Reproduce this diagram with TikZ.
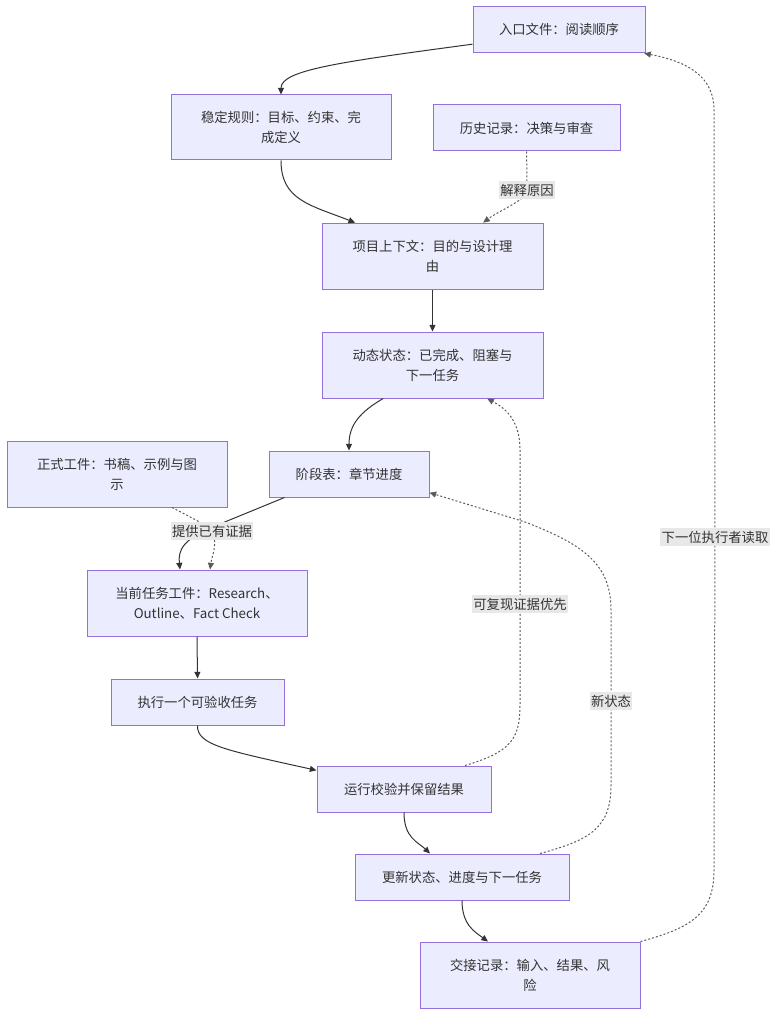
\documentclass[tikz,border=0pt]{standalone}
\usepackage{fontspec}
\setmainfont{Noto Sans CJK SC}
\usetikzlibrary{arrows.meta}
\definecolor{boxfill}{HTML}{ECECFF}
\definecolor{boxline}{HTML}{9370DB}
\definecolor{edgecol}{HTML}{333333}
\definecolor{labbg}{HTML}{E8E8E8}
\begin{document}
\begin{tikzpicture}[x=0.75pt,y=-0.75pt,
  box/.style={draw=boxline,fill=boxfill,line width=0.75pt,align=center,text=edgecol,
    font=\fontsize{10}{15}\selectfont,inner sep=0pt},
  edge/.style={draw=edgecol,line width=0.75pt,-{Triangle[length=5pt,width=4.5pt]}},
  dotedge/.style={draw=edgecol!80,line width=0.75pt,dash pattern=on 1.5pt off 1.5pt,
    -{Triangle[length=5pt,width=4.5pt]}},
  lab/.style={fill=labbg,text=edgecol,font=\fontsize{10}{15}\selectfont,inner xsep=1pt,inner ysep=2pt}]
\useasboundingbox (0,0) rectangle (784,1027);
% nodes
\node[box,minimum width=129pt,minimum height=34pt] (entry) at (559,29.5) {入口文件：阅读顺序};
\node[box,minimum width=165pt,minimum height=48.75pt] (rules) at (281,127.5) {稳定规则：目标、约束、完\\成定义};
\node[box,minimum width=140.25pt,minimum height=34.5pt] (history) at (526.5,128) {历史记录：决策与审查};
\node[box,minimum width=165.75pt,minimum height=50pt] (context) at (432.5,256.5) {项目上下文：目的与设计理\\由};
\node[box,minimum width=165.75pt,minimum height=49.5pt] (dyn) at (432.5,365) {动态状态：已完成、阻塞与\\下一任务};
\node[box,minimum width=120pt,minimum height=34.5pt] (stage) at (349,474) {阶段表：章节进度};
\node[box,minimum width=165pt,minimum height=49.5pt] (formal) at (117,474) {正式工件：书稿、示例与图\\示};
\node[box,minimum width=165pt,minimum height=49.5pt] (current) at (197,603) {当前任务工件：Research、\\Outline、Fact Check};
\node[box,minimum width=129.75pt,minimum height=34.5pt] (exec) at (197.5,702) {执行一个可验收任务};
\node[box,minimum width=130.5pt,minimum height=34.5pt] (run) at (404,789) {运行校验并保留结果};
\node[box,minimum width=160.5pt,minimum height=34.5pt] (update) at (462,877) {更新状态、进度与下一任务};
\node[box,minimum width=165pt,minimum height=49.5pt] (handoff) at (530,975) {交接记录：输入、结果、风\\险};
% label positions
\coordinate (l1) at (527,190);
\coordinate (l2) at (212,531);
\coordinate (l3) at (520,604);
\coordinate (l4) at (611,701);
\coordinate (l5) at (715,537);
% edges
\draw[edge] ([yshift=-11pt]entry.west) .. controls (340,62) and (281,70) .. (rules.north);
\draw[edge] (rules.south) .. controls (281,200) and (310,205) .. ([xshift=-58pt]context.north);
\draw[dotedge] (history.south) .. controls (527,170) and (527,180) .. (l1) .. controls (527,200) and (500,210) .. ([xshift=38pt]context.north);
\draw[edge] (context.south) -- (dyn.north);
\draw[edge] ([xshift=-37pt]dyn.south) .. controls (360,412) and (349,425) .. (stage.north);
\draw[edge] ([xshift=12pt]stage.south west) -- (215,526) .. controls (183,539) and (178,550) .. ([xshift=-12.75pt]current.north);
\draw[dotedge] ([xshift=41.25pt]formal.south) .. controls (192,518) and (205,524) .. (l2) .. controls (218,545) and (212,555) .. ([xshift=9.75pt]current.north);
\draw[edge] (current.south) -- (exec.north);
\draw[edge] (exec.south) .. controls (197,745) and (225,750) .. ([yshift=14pt]run.west);
\draw[dotedge] ([xshift=45.75pt]run.north) .. controls (510,752) and (520,740) .. (520,705) -- (l3) -- (520,450) .. controls (520,420) and (505,408) .. ([xshift=41pt]dyn.south);
\draw[edge] (run.south) .. controls (404,838) and (418,842) .. ([xshift=-24pt]update.north);
\draw[dotedge] ([xshift=58.5pt]update.north) .. controls (590,840) and (611,828) .. (611,785) -- (l4) -- (611,610) .. controls (611,565) and (585,545) .. (525,522) -- ([yshift=-14pt]stage.east);
\draw[edge] (update.south) .. controls (462,925) and (475,932) .. ([xshift=-31.5pt]handoff.north);
\draw[dotedge] (handoff.north east) .. controls (690,928) and (714,915) .. (714,870) -- (l5) -- (714,110) .. controls (714,78) and (690,62) .. ([xshift=-1pt,yshift=-0.5pt]entry.south east);
% labels
\node[lab] at (l1) {解释原因};
\node[lab] at (l2) {提供已有证据};
\node[lab] at (l3) {可复现证据优先};
\node[lab] at (l4) {新状态};
\node[lab] at (l5) {下一位执行者读取};
\end{tikzpicture}
\end{document}
